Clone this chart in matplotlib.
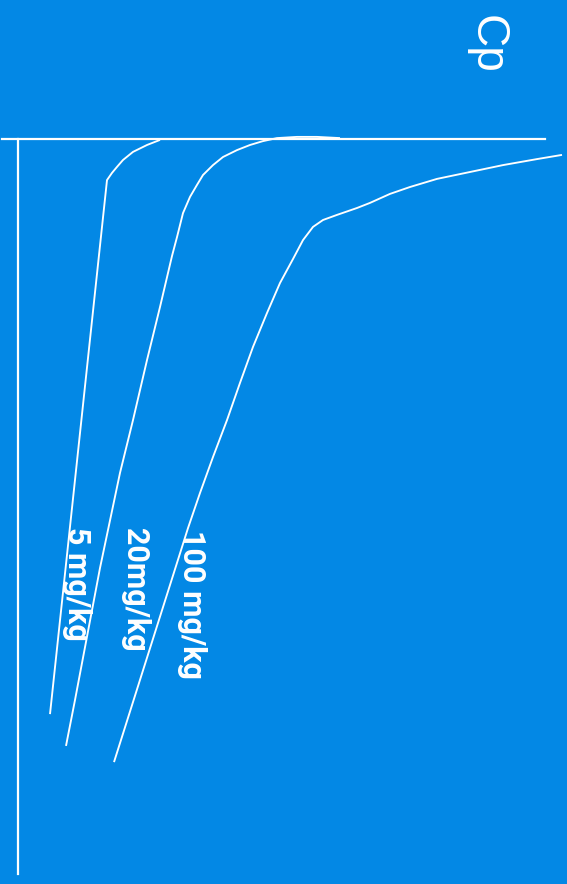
import matplotlib
matplotlib.use("Agg")
import matplotlib.pyplot as plt

# Plasma concentration (log units) vs time (h); chart is drawn rotated 90 deg clockwise
dose_labels = ["5 mg/kg", "20mg/kg", "100 mg/kg"]

logcp_5 = [1.42, 1.29, 1.15, 1.05, 0.99, 0.94, 0.89, 0.32]
time_5 = [0.03, 0.2, 0.43, 0.7, 0.93, 1.13, 1.37, 19.17]

logcp_20 = [3.22, 2.99, 2.79, 2.59, 2.45, 2.32, 2.19, 2.05, 1.95, 1.85, 1.79,
            1.72, 1.65, 1.59, 1.54, 1.42, 1.29, 1.15, 1.02, 0.82, 0.57, 0.48]
time_20 = [-0.03, -0.07, -0.07, -0.03, 0.07, 0.2, 0.37, 0.6, 0.87, 1.2, 1.53,
           1.93, 2.47, 3.27, 3.9, 5.6, 7.37, 9.37, 11.13, 14.3, 18.7, 20.23]

logcp_100 = [5.44, 5.19, 4.85, 4.52, 4.19, 3.92, 3.72, 3.52, 3.39, 3.19, 3.05,
             2.95, 2.85, 2.75, 2.62, 2.49, 2.35, 2.22, 2.09, 1.95, 1.82, 1.70,
             1.33, 0.96]
time_100 = [0.53, 0.67, 0.87, 1.1, 1.33, 1.6, 1.83, 2.13, 2.3, 2.53, 2.7,
            2.93, 3.37, 4.0, 4.8, 5.8, 6.93, 8.13, 9.37, 10.6, 11.8, 12.97,
            16.87, 20.77]

BG = "#0388E5"
FG = "white"

fig = plt.figure(figsize=(5.67, 8.84), dpi=100, facecolor=BG)
ax = fig.add_axes([0, 0, 1, 1], facecolor=BG)
ax.set_xlim(-0.18, 5.49)
ax.set_ylim(24.833, -4.633)

for lc, t in [(logcp_5, time_5), (logcp_20, time_20), (logcp_100, time_100)]:
    ax.plot(lc, t, color=FG, lw=1.35, solid_capstyle="butt", solid_joinstyle="round")

# axes as spines
for s in ["right", "bottom"]:
    ax.spines[s].set_visible(False)
ax.spines["top"].set_position(("data", 0))
ax.spines["top"].set_bounds(-0.16, 5.27)
ax.spines["left"].set_position(("data", 0))
ax.spines["left"].set_bounds(0, 24.5)
for s in ["top", "left"]:
    ax.spines[s].set_color(FG)
    ax.spines[s].set_linewidth(1.6)
ax.set_xticks([])
ax.set_yticks([])

label_pos = [(0.59, 12.93), (1.17, 12.97), (1.74, 13.03)]
for lab, (lx, ly) in zip(dose_labels, label_pos):
    ax.text(lx, ly, lab, rotation=-90, ha="center", va="top", color=FG,
            fontsize=22, fontweight="bold", family=["Roboto", "DejaVu Sans"])

ax.text(4.69, -4.13, "Cp", rotation=-90, ha="center", va="top", color=FG,
        fontsize=33, family=["Liberation Sans", "DejaVu Sans"])

fig.savefig("out.png", dpi=100, facecolor=BG)
